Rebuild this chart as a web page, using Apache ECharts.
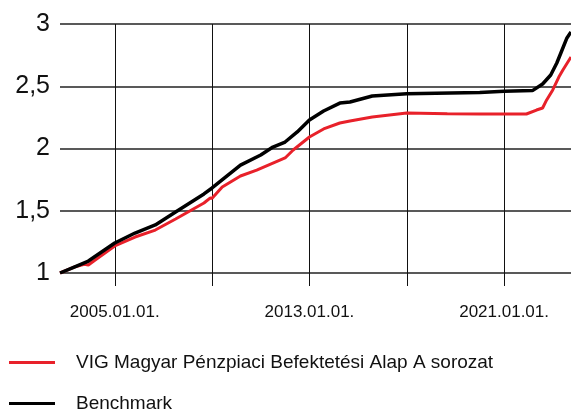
<!DOCTYPE html>
<html>
<head>
<meta charset="utf-8">
<script src="https://cdn.jsdelivr.net/npm/echarts@6/dist/echarts.min.js"></script>
<style>
  html, body { margin: 0; padding: 0; background: #fff; }
  #chart { width: 571px; height: 410px; }
</style>
</head>
<body>
<div id="chart"></div>
<script>
// series names
const fundName = 'VIG Magyar Pénzpiaci Befektetési Alap A sorozat';
const benchName = 'Benchmark';

// [month, value]
const fundValues = [
    ['2002-10', 1.00], ['2003-05', 1.048], ['2003-10', 1.07], ['2003-12', 1.064],
    ['2004-03', 1.10], ['2005-01', 1.217], ['2005-11', 1.289], ['2006-09', 1.345],
    ['2007-07', 1.434], ['2008-09', 1.562], ['2008-12', 1.602], ['2009-01', 1.60],
    ['2009-06', 1.691], ['2010-03', 1.779], ['2010-11', 1.827], ['2012-01', 1.924],
    ['2012-05', 1.988], ['2013-01', 2.092], ['2013-08', 2.157], ['2014-04', 2.205],
    ['2014-09', 2.221], ['2015-08', 2.253], ['2017-01', 2.285], ['2018-09', 2.280],
    ['2020-01', 2.278], ['2021-12', 2.277], ['2022-05', 2.309], ['2022-08', 2.325],
    ['2022-10', 2.39], ['2023-01', 2.47], ['2023-04', 2.574], ['2023-06', 2.63],
    ['2023-10', 2.735]
];
const benchValues = [
    ['2002-10', 1.00], ['2003-05', 1.048], ['2003-12', 1.096], ['2005-01', 1.241],
    ['2005-11', 1.321], ['2006-09', 1.386], ['2007-07', 1.49], ['2008-09', 1.635],
    ['2009-01', 1.683], ['2010-03', 1.867], ['2011-01', 1.948], ['2011-07', 2.012],
    ['2012-01', 2.052], ['2012-07', 2.133], ['2013-01', 2.229], ['2013-08', 2.301],
    ['2014-04', 2.365], ['2014-09', 2.373], ['2015-08', 2.422], ['2017-01', 2.44],
    ['2020-01', 2.45], ['2021-01', 2.46], ['2022-03', 2.465], ['2022-08', 2.518],
    ['2022-12', 2.59], ['2023-03', 2.687], ['2023-05', 2.767], ['2023-08', 2.888],
    ['2023-10', 2.936]
];

// monthly categories for the x axis
const months = [];
for (let y = 2002, m = 10; y < 2023 || (y === 2023 && m <= 10); m++) {
    if (m > 12) { m = 1; y++; }
    months.push(y + '-' + String(m).padStart(2, '0'));
}

const yearOf = v => parseInt(v.slice(0, 4), 10);
const gridLine = (i, v) => v.endsWith('-01') && yearOf(v) % 4 === 1;
const labelled = (i, v) => v.endsWith('-01') && yearOf(v) % 8 === 5;

const font = "'Liberation Sans', Arial, Helvetica, sans-serif";

let chart = echarts.init(document.getElementById('chart'), null, { renderer: 'canvas' });

let option = {
    animation: false,
    textStyle: { fontFamily: font },
    grid: { left: 60, right: 0, top: 24, bottom: 137, containLabel: false },
    legend: {
        orient: 'vertical',
        left: 9,
        top: 353,
        height: 120,
        padding: 0,
        itemWidth: 46,
        itemHeight: 3,
        itemGap: 22,
        icon: 'rect',
        textStyle: { fontSize: 19, color: '#111', fontFamily: font, padding: [0, 0, 0, 16] },
        data: [fundName, benchName]
    },
    xAxis: {
        type: 'category',
        data: months,
        boundaryGap: false,
        axisLine: { show: false },
        axisTick: {
            show: true,
            interval: gridLine,
            length: 13,
            lineStyle: { color: '#111', width: 1 }
        },
        splitLine: {
            show: true,
            interval: gridLine,
            lineStyle: { color: '#111', width: 1 }
        },
        axisLabel: {
            interval: labelled,
            margin: 31,
            fontSize: 17,
            color: '#111',
            fontFamily: font,
            formatter: v => yearOf(v) + '.01.01.'
        }
    },
    yAxis: {
        type: 'value',
        min: 1,
        max: 3,
        interval: 0.5,
        axisLine: { show: false },
        axisTick: { show: false },
        splitLine: { lineStyle: { color: '#222', width: 1.5 } },
        axisLabel: {
            margin: 10,
            fontSize: 25,
            color: '#111',
            fontFamily: font,
            formatter: v => String(v).replace('.', ',')
        }
    },
    series: [
        {
            name: fundName,
            type: 'line',
            data: fundValues,
            showSymbol: false,
            color: '#e8212a',
            lineStyle: { width: 3, color: '#e8212a' }
        },
        {
            name: benchName,
            type: 'line',
            data: benchValues,
            showSymbol: false,
            color: '#000',
            lineStyle: { width: 3.5, color: '#000' }
        }
    ]
};

option && chart.setOption(option);
</script>
</body>
</html>
